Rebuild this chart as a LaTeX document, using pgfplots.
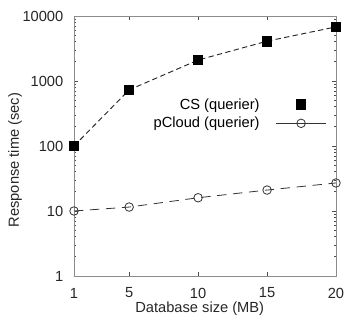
\documentclass[border=0pt]{standalone}
\usepackage{fontspec}
\setmainfont{Liberation Sans}
\usepackage{pgfplots}
\pgfplotsset{compat=1.18}
\begin{document}
\begin{tikzpicture}
\begin{axis}[
  scale only axis,
  width=196.5pt, height=195pt,
  xmode=normal, ymode=log,
  xmin=1, xmax=20, ymin=1, ymax=10000,
  xtick={1,5,10,15,20},
  ytick={1,10,100,1000,10000},
  yticklabels={1,10,100,1000,10000},
  /pgf/number format/assume math mode=true,
  font=\fontsize{11}{13}\selectfont,
  tick label style={font=\fontsize{11}{13}\selectfont, text=black!85},
  axis line style={draw=black!45, line width=0.6pt},
  tick style={draw=black!70, line width=0.6pt},
  major tick length=3pt, minor tick length=1.6pt,
  tick align=inside,
  xticklabel style={anchor=center, yshift=-12.75pt},
  yticklabel style={xshift=-4.5pt},
  xlabel={Database size (MB)},
  ylabel={Response time (sec)},
  xlabel style={at={(axis description cs:0.48,-0.127)}, anchor=center, text=black!85},
  ylabel style={at={(axis description cs:-0.225,0.446)}, anchor=center, text=black!85},
  legend cell align=right,
  legend plot pos=right,
  legend style={at={(axis description cs:0.97,0.623)}, anchor=east, draw=none, fill=none,
    font=\fontsize{11}{13}\selectfont, row sep=0.5pt, inner sep=1pt,
    /tikz/every odd column/.append style={column sep=10pt}},
]
\addplot[black!85, line width=0.7pt, dash pattern=on 4pt off 2.5pt,
  mark=square*, mark size=3.6pt, mark options={solid, fill=black, draw=black},
  legend image code/.code={\path plot[mark=square*, mark size=3.6pt, mark options={solid,fill=black,draw=black}] coordinates {(0.66cm,0cm)};}]
  coordinates {(1,100) (5,730) (10,2100) (15,4100) (20,6800)};
\addlegendentry{CS (querier)}
\addplot[black!80, line width=0.6pt, dash pattern=on 7pt off 5pt,
  mark=o, mark size=3.2pt, mark options={solid, draw=black!80},
  legend image code/.code={\draw[black!80, solid, line width=0.6pt] (0cm,0cm) -- (1.32cm,0cm); \path plot[mark=o, mark size=3.2pt, mark options={solid,draw=black!80}] coordinates {(0.66cm,0cm)};}]
  coordinates {(1,10) (5,11.5) (10,16) (15,21) (20,27)};
\addlegendentry{pCloud (querier)}
\end{axis}
\pgfresetboundingbox
\path (current axis.south west) ++(-55.5pt,-34.5pt) coordinate (bl);
\path (current axis.north east) ++(11.25pt,12pt) coordinate (tr);
\path (bl) rectangle (tr);
\end{tikzpicture}
\end{document}
